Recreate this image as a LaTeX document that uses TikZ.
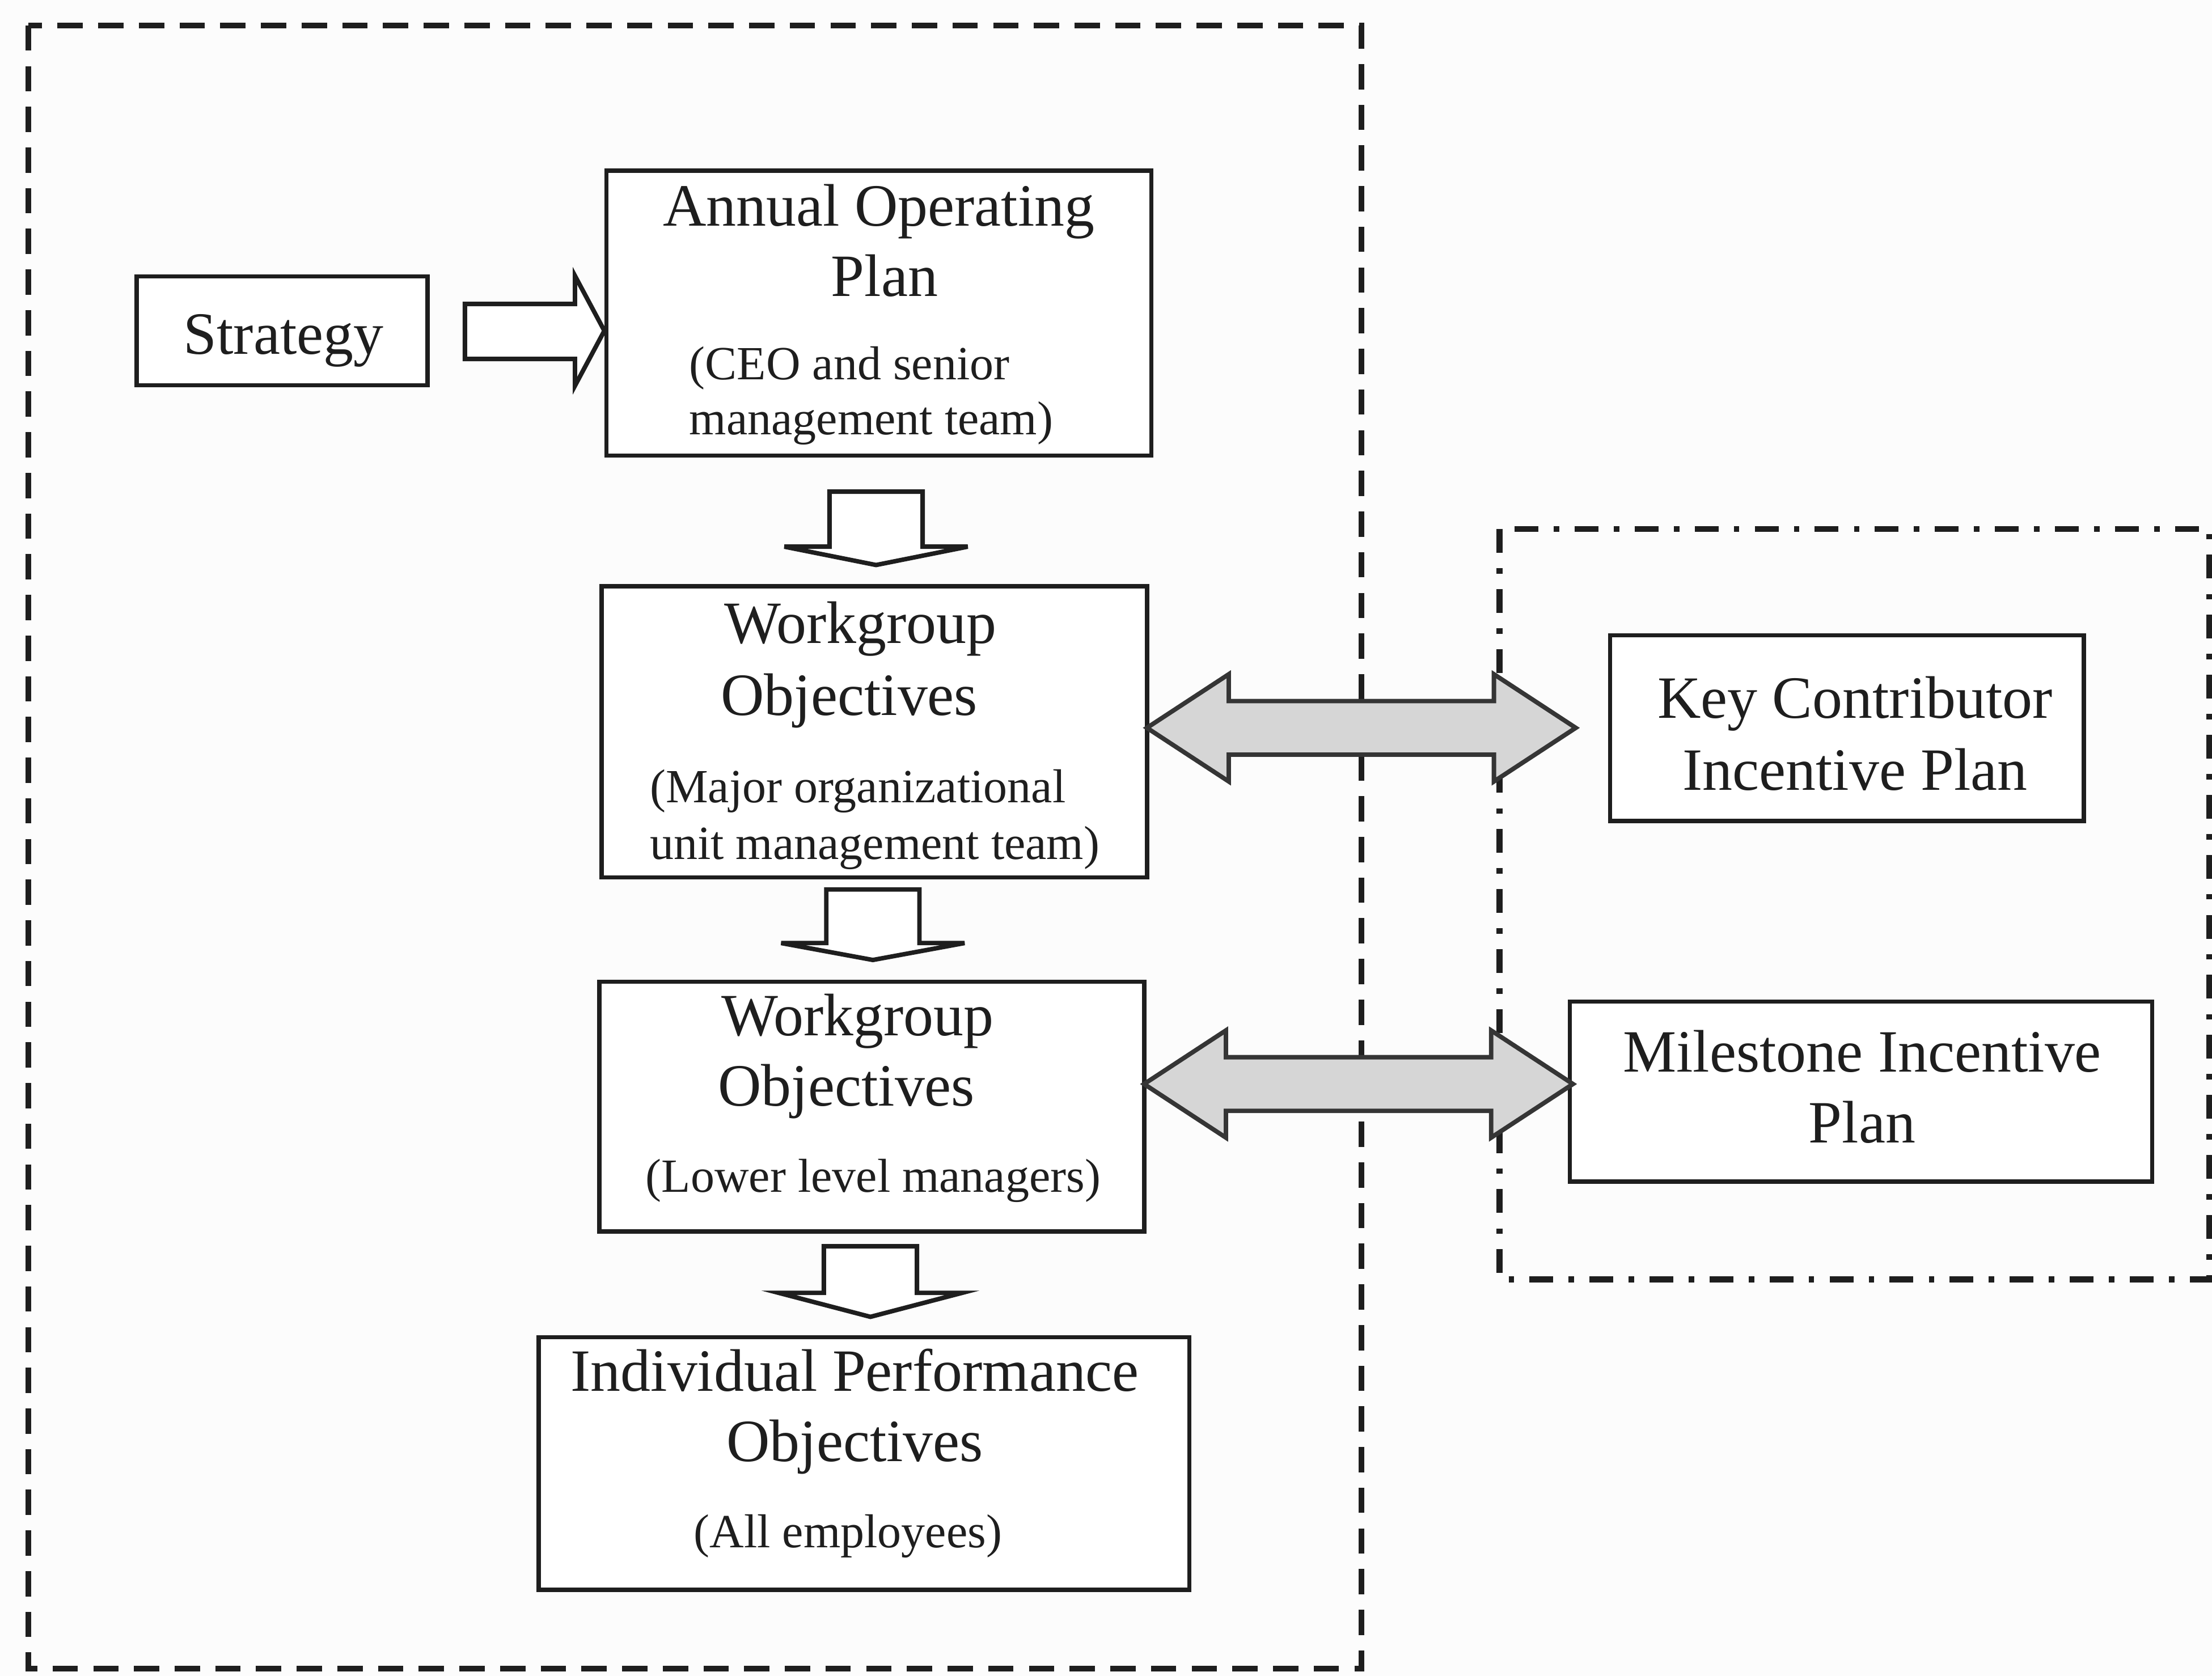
\documentclass[tikz,border=0pt]{standalone}
\usepackage{fontspec}
\setmainfont{Liberation Serif}
\usetikzlibrary{calc}
\definecolor{ink}{HTML}{1E1E1E}
\definecolor{arrowgray}{HTML}{D6D6D6}
\definecolor{paper}{HTML}{FCFCFC}
\tikzset{
  boxnode/.style={draw=ink, line width=0.85pt, rectangle, inner sep=0pt, fill=white},
  ttl/.style={anchor=base, inner sep=0pt, text=ink, font=\fontsize{12.1}{14}\selectfont},
  sub/.style={anchor=base, inner sep=0pt, text=ink, font=\fontsize{9.6}{11}\selectfont},
  subw/.style={anchor=base west, inner sep=0pt, text=ink, font=\fontsize{9.6}{11}\selectfont},
  hollow/.style={draw=ink, line width=0.9pt, fill=white, line join=miter},
  dblarrow/.style={draw=ink!90, line width=0.9pt, fill=arrowgray, line join=miter},
  outerframe/.style={draw=ink, line width=1.2pt, dash pattern=on 5.1pt off 3.1pt},
  rightframe/.style={draw=ink, line width=1.2pt, dash pattern=on 4.8pt off 3.1pt on 1.1pt off 3.1pt},
  pics/downblk/.style args={#1/#2}{code={
    \draw[hollow] (-33,0) -- (33,0) -- (33,#1) -- (65,#1) -- (0,#2) -- (-65,#1) -- (-33,#1) -- cycle;}},
  pics/dblblk/.style args={#1}{code={
    \draw[dblarrow] (0,0) -- (58,-38) -- (58,-19) -- (#1-58,-19) -- (#1-58,-38) -- (#1,0)
      -- (#1-58,38) -- (#1-58,19) -- (58,19) -- (58,38) -- cycle;}}
}
\begin{document}
\begin{tikzpicture}[x=0.01cm, y=-0.01cm]
\useasboundingbox[fill=paper] (0,0) rectangle (1568,1188);

% frames
\draw[outerframe] (20,18) rectangle (965,1183);
\draw[rightframe] (1063,375) rectangle (1566,907);

% boxes
\node[boxnode, minimum width=2.06cm, minimum height=0.77cm] (strat) at (200,234.5) {};
\node[boxnode, minimum width=3.86cm, minimum height=2.02cm] (aop) at (623,222) {};
\node[boxnode, minimum width=3.865cm, minimum height=2.064cm] (wg1) at (619.75,518.8) {};
\node[boxnode, minimum width=3.86cm, minimum height=1.77cm] (wg2) at (618,784.5) {};
\node[boxnode, minimum width=4.61cm, minimum height=1.79cm] (ipo) at (612.5,1037.5) {};
\node[boxnode, minimum width=3.355cm, minimum height=1.315cm] (kcip) at (1309.25,516.25) {};
\node[boxnode, minimum width=4.125cm, minimum height=1.276cm] (mip) at (1319.25,773.8) {};

% texts
\node[ttl] (tstrat) at (201,251) {Strategy};
\node[ttl] (taop1) at (623,160) {Annual Operating};
\node[ttl] (taop2) at (627,210) {Plan};
\node[subw] (taop3) at (488,269) {(CEO and senior};
\node[subw] (taop4) at (488,308) {management team)};

\node[ttl] (twg1a) at (610,456) {Workgroup};
\node[ttl] (twg1b) at (602,507) {Objectives};
\node[subw] (twg1c) at (460,569) {(Major organizational};
\node[subw] (twg1d) at (460,609) {unit management team)};

\node[ttl] (twg2a) at (608,734) {Workgroup};
\node[ttl] (twg2b) at (600,784) {Objectives};
\node[sub] (twg2c) at (619,845) {(Lower level managers)};

\node[ttl] (tipo1) at (606,986) {Individual Performance};
\node[ttl] (tipo2) at (606,1036) {Objectives};
\node[sub] (tipo3) at (601,1097) {(All employees)};

\node[ttl] (tk1) at (1315,509) {Key Contributor};
\node[ttl] (tk2) at (1315,560) {Incentive Plan};

\node[ttl] (tm1) at (1320,760) {Milestone Incentive};
\node[ttl] (tm2) at (1320,810) {Plan};

% hollow arrow Strategy -> AOP
\coordinate (sa) at ($(strat.east)+(25,0)$);
\draw[hollow] ($(sa)+(0,-19)$) -- ($(sa)+(78,-19)$) -- ($(sa)+(78,-39)$) -- (aop.west |- strat.east)
  -- ($(sa)+(78,39)$) -- ($(sa)+(78,20)$) -- ($(sa)+(0,20)$) -- cycle;

% down arrows
\pic at ($(aop.south)+(-2,24)$) {downblk={39/52}};
\pic at ($(wg1.south)+(-1,7)$) {downblk={38/50}};
\pic at ($(wg2.south)+(-1,9)$) {downblk={33/50}};

% double arrows
\pic at (813,516) {dblblk={304}};
\pic at (811,768.5) {dblblk={304}};
\end{tikzpicture}
\end{document}
